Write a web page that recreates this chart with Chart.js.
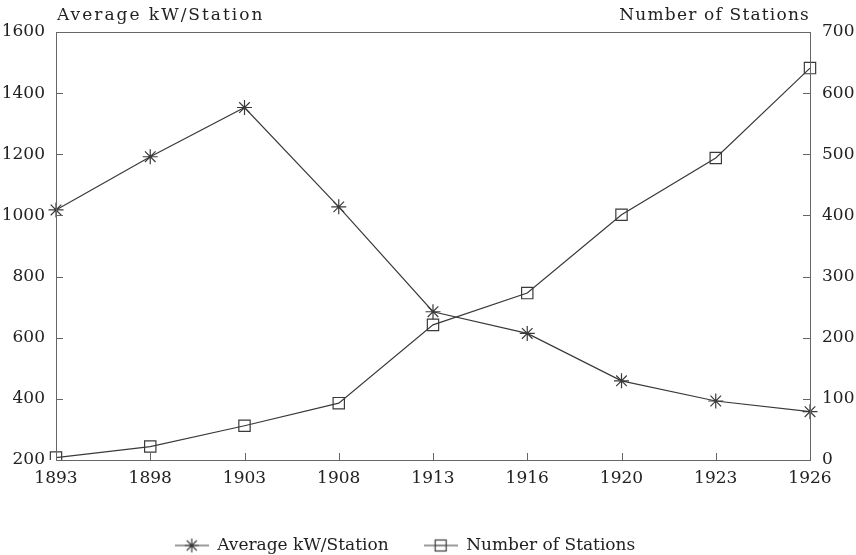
<!doctype html>
<html>
  <head>
    <title>Average kW per Station</title>
    <script src="https://cdn.jsdelivr.net/npm/chart.js@4.4.1/dist/chart.umd.min.js"></script>
    <style>
    body { margin: 0; background: #fff; }
    #wrap { width: 856px; height: 555px; }
    </style>
  </head>
  <body>
    <div id="wrap"><canvas id="LineChart" width="856" height="555"></canvas></div>

    <script>
    var years = ['1893', '1898', '1903', '1908', '1913', '1916', '1920', '1923', '1926'];
    var avgKw = [1018, 1192, 1353, 1028, 685, 614, 459, 393, 358];
    var stations = [4, 22, 56, 93, 221, 273, 401, 494, 641];
    var leftTicks = [200, 400, 600, 800, 1000, 1200, 1400, 1600];
    var rightTicks = [0, 100, 200, 300, 400, 500, 600, 700];

    var ink = '#3a3a3a';
    var serif = "'DejaVu Serif', 'Liberation Serif', serif";

    // little pictures for the legend: a line with the marker on it
    function legendIcon(kind) {
      var c = document.createElement('canvas');
      c.width = 34; c.height = 18;
      var g = c.getContext('2d');
      g.strokeStyle = ink;
      g.lineWidth = 1.2;
      g.beginPath(); g.moveTo(0, 9); g.lineTo(34, 9); g.stroke();
      if (kind == 'star') {
        g.beginPath();
        g.moveTo(17, 2); g.lineTo(17, 16);
        g.moveTo(10, 9); g.lineTo(24, 9);
        g.moveTo(12, 4); g.lineTo(22, 14);
        g.moveTo(22, 4); g.lineTo(12, 14);
        g.stroke();
      } else {
        g.fillStyle = '#fff';
        g.fillRect(11.5, 3.5, 11, 11);
        g.strokeRect(11.5, 3.5, 11, 11);
        g.beginPath(); g.moveTo(11.5, 9); g.lineTo(22.5, 9); g.stroke();
      }
      return c;
    }

    // box round the plot, inward ticks and the two axis titles
    var frame = {
      id: 'frame',
      afterLayout: function(chart) {
        // the legend sits a little left of centre in the original
        chart.legend.left -= 23;
        chart.legend.right -= 23;
      },
      afterDraw: function(chart) {
        var ctx = chart.ctx;
        var a = chart.chartArea;
        ctx.save();
        ctx.strokeStyle = '#666';
        ctx.lineWidth = 1;
        ctx.strokeRect(a.left + 0.5, a.top + 0.5, a.right - a.left, a.bottom - a.top);
        ctx.beginPath();
        var sx = chart.scales.x;
        for (var i = 0; i < sx.ticks.length; i++) {
          var px = Math.round(sx.getPixelForTick(i)) + 0.5;
          ctx.moveTo(px, a.bottom); ctx.lineTo(px, a.bottom - 7);
        }
        var sy = chart.scales.y;
        for (i = 0; i < sy.ticks.length; i++) {
          var py = Math.round(sy.getPixelForTick(i)) + 0.5;
          ctx.moveTo(a.left, py); ctx.lineTo(a.left + 7, py);
        }
        var sy1 = chart.scales.y1;
        for (i = 0; i < sy1.ticks.length; i++) {
          var py1 = Math.round(sy1.getPixelForTick(i)) + 0.5;
          ctx.moveTo(a.right, py1); ctx.lineTo(a.right - 7, py1);
        }
        ctx.stroke();

        ctx.fillStyle = '#222';
        ctx.font = '17px ' + serif;
        ctx.letterSpacing = '2px';
        ctx.textBaseline = 'middle';
        ctx.textAlign = 'left';
        ctx.fillText('Average kW/Station', a.left + 1, 16);
        ctx.letterSpacing = '1.2px';
        ctx.textAlign = 'right';
        ctx.fillText('Number of Stations', a.right, 16);
        ctx.restore();
      }
    };

    function plain(v) { return String(v); }

    var ctx = document.getElementById('LineChart');
    var myChart = new Chart(ctx, {
      type: 'line',
      data: {
        labels: years,
        datasets: [{
          label: 'Average kW/Station',
          data: avgKw,
          yAxisID: 'y',
          borderColor: ink,
          borderWidth: 1.2,
          pointStyle: 'star',
          pointRadius: 7.5,
          pointBorderColor: ink,
          pointBorderWidth: 1.2,
          backgroundColor: ink,
          tension: 0
        }, {
          label: 'Number of Stations',
          data: stations,
          yAxisID: 'y1',
          borderColor: ink,
          borderWidth: 1.2,
          pointStyle: 'rect',
          pointRadius: 8,
          pointBorderColor: ink,
          pointBorderWidth: 1.2,
          pointBackgroundColor: 'rgba(0,0,0,0)',
          backgroundColor: 'rgba(0,0,0,0)',
          tension: 0
        }]
      },
      options: {
        responsive: false,
        animation: false,
        layout: { padding: { top: 32, left: 0, right: 0, bottom: -9 } },
        plugins: {
          tooltip: { enabled: false },
          legend: {
            position: 'bottom',
            labels: {
              usePointStyle: true,
              pointStyleWidth: 34,
              padding: 35,
              color: '#222',
              font: { family: serif, size: 17 },
              generateLabels: function(chart) {
                return chart.data.datasets.map(function(ds, i) {
                  return {
                    text: ds.label,
                    pointStyle: legendIcon(i == 0 ? 'star' : 'rect'),
                    datasetIndex: i,
                    fontColor: '#222',
                    strokeStyle: ink,
                    fillStyle: 'rgba(0,0,0,0)',
                    lineWidth: 0
                  };
                });
              }
            }
          }
        },
        scales: {
          x: {
            type: 'category',
            offset: false,
            grid: { display: false, drawTicks: false },
            border: { display: false },
            ticks: { color: '#222', padding: 8, maxRotation: 0, font: { family: serif, size: 17 } },
            afterFit: function(scale) { scale.height = 42; }
          },
          y: {
            position: 'left',
            min: 200,
            max: 1600,
            afterBuildTicks: function(scale) { scale.ticks = leftTicks.map(function(v) { return { value: v }; }); },
            grid: { display: false, drawTicks: false },
            border: { display: false },
            ticks: { color: '#222', padding: 11, callback: plain, font: { family: serif, size: 17 } },
            afterFit: function(scale) { scale.width = 56; }
          },
          y1: {
            position: 'right',
            min: 0,
            max: 700,
            afterBuildTicks: function(scale) { scale.ticks = rightTicks.map(function(v) { return { value: v }; }); },
            grid: { display: false, drawTicks: false },
            border: { display: false },
            ticks: { color: '#222', padding: 12, callback: plain, font: { family: serif, size: 17 } },
            afterFit: function(scale) { scale.width = 46; }
          }
        }
      },
      plugins: [frame]
    });
    </script>
  </body>
</html>
